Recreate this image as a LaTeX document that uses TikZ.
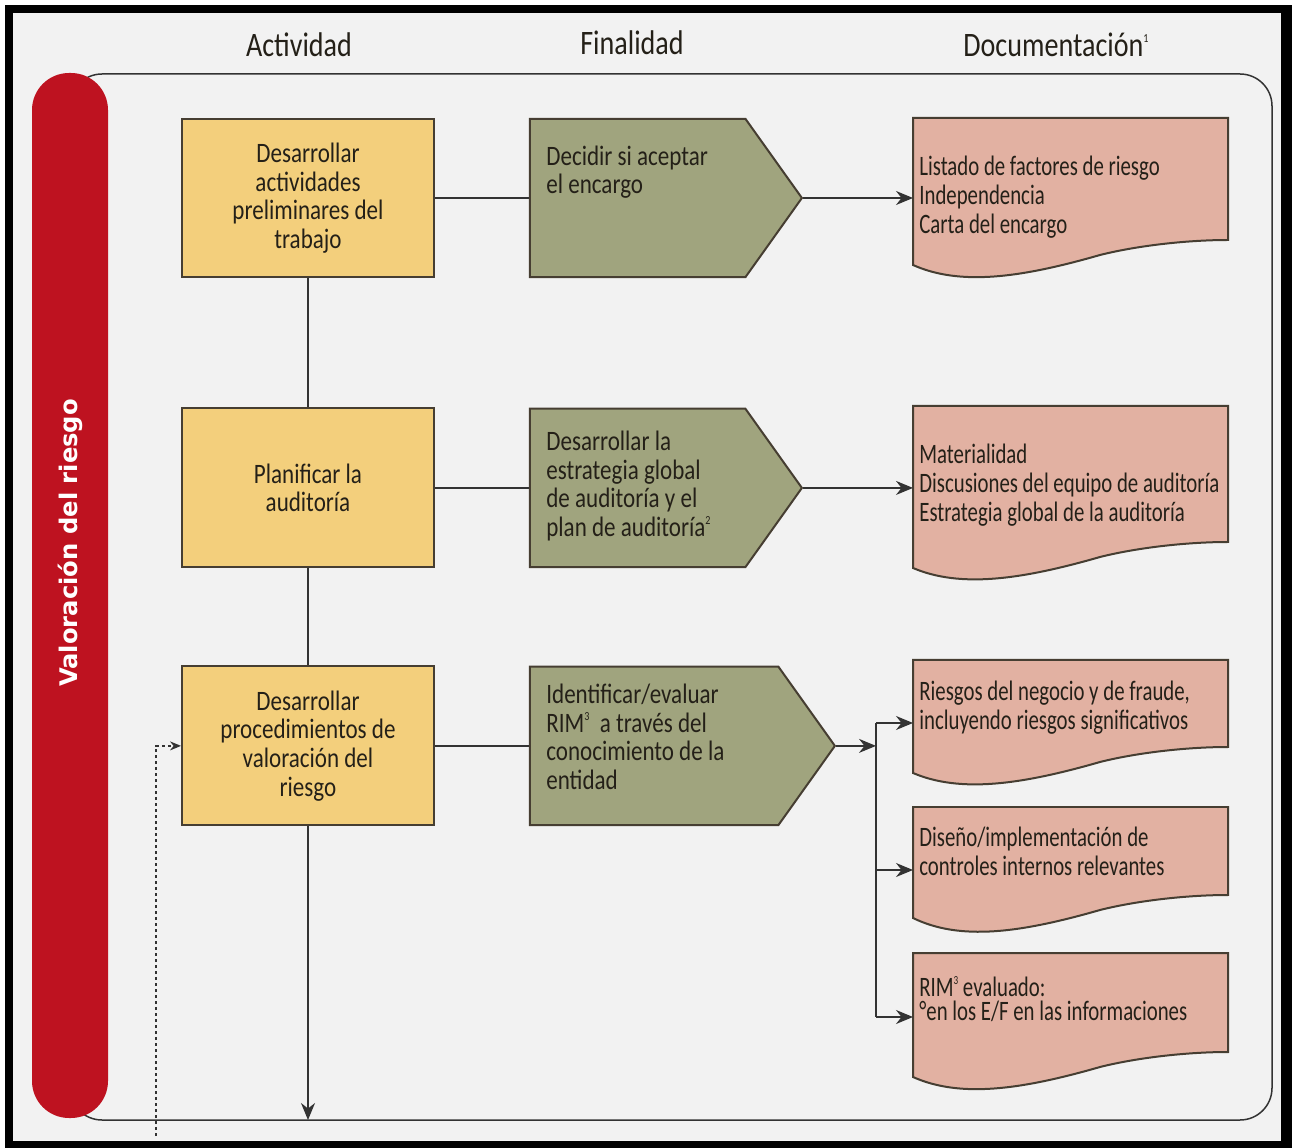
\documentclass[tikz,border=0pt]{standalone}
\usepackage{fontspec}
\setmainfont{Carlito}[FakeStretch=0.82]
\newfontfamily\docfont{Carlito}[FakeStretch=0.74]
\newfontfamily\barfont{DejaVu Sans}
\usetikzlibrary{arrows.meta, positioning, shapes.symbols}

\definecolor{actyellow}{RGB}{243,207,124}
\definecolor{fingreen}{RGB}{160,164,126}
\definecolor{docpink}{RGB}{226,177,162}
\definecolor{barred}{RGB}{190,18,32}
\definecolor{panelgray}{RGB}{242,242,242}
\definecolor{edge}{RGB}{70,62,50}
\definecolor{ink}{RGB}{36,32,24}

\newcommand\supnum[1]{\raisebox{0.9ex}{\fontsize{7pt}{7pt}\selectfont#1}}

\begin{document}
\begin{tikzpicture}[x=0.02cm, y=-0.02cm, >={Stealth[length=0.34cm, width=0.28cm]},
  font=\fontsize{16pt}{16.3pt}\selectfont, text=ink,
  act/.style={draw=edge, line width=0.04cm, fill=actyellow, minimum width=5.04cm, minimum height=3.18cm, align=center},
  fin/.style={signal, signal to=east, signal pointer angle=109, draw=edge, line width=0.04cm, fill=fingreen, minimum height=3.17cm},
  fintext/.style={anchor=west, align=left, inner sep=0pt},
  doctext/.style={anchor=west, align=left, inner xsep=0.12cm, font=\docfont\fontsize{16pt}{16.5pt}\selectfont},
  docshape/.style={draw=edge, line width=0.04cm, fill=docpink},
  head/.style={anchor=base, font=\fontsize{19.5pt}{20pt}\selectfont},
  link/.style={draw=black!80, line width=0.03cm}]

% frame and panel
\useasboundingbox (0,0) rectangle (1299,1148);
\fill[black] (5,5) rectangle (1292,1148);
\fill[panelgray] (13,13) rectangle (1281,1141);
\draw[link, rounded corners=0.64cm] (70,74) rectangle (1272,1120);
\fill[barred, rounded corners=0.74cm] (32,73) rectangle (108,1118);
\node[rotate=90, text=white, font=\barfont\bfseries\fontsize{13.8pt}{14pt}\selectfont] (bar) at (70,543) {Valoración del riesgo};

\node[head] (h-act) at (299,57) {Actividad};
\node[head] (h-fin) at (632,55) {Finalidad};
\node[head] (h-doc) at (1056,57) {Documentación\supnum{1}};

% actividad
\node[act] (act1) at (308,198) {Desarrollar\\actividades\\preliminares del\\trabajo};
\node[act, below=2.58cm of act1] (act2) {Planificar la\\auditoría};
\node[act, below=1.94cm of act2] (act3) {Desarrollar\\procedimientos de\\valoración del\\riesgo};

% finalidad
\node[fin, minimum width=5.44cm, right=1.88cm of act1] (fin1) {};
\node[fin, minimum width=5.44cm, right=1.88cm of act2] (fin2) {};
\node[fin, minimum width=6.1cm, right=1.88cm of act3] (fin3) {};

\node[fintext] (fin1-text) at (546,172) {Decidir si aceptar\\el encargo};
\node[fintext] (fin2-text) at (546,486) {Desarrollar la\\estrategia global\\de auditoría y el\\plan de auditoría\supnum{2}};
\node[fintext] (fin3-text) at (546,737) {Identificar/evaluar\\RIM\supnum{3}\ \ a través del\\conocimiento de la\\entidad};

% documentacion
\path[docshape] (913,118) -- (1228,118) -- (1228,240) .. controls (1190,240) and (1140,245) .. (1100,255) .. controls (1020,278) and (960,286) .. (913,265) -- cycle;
\path[docshape] (913,406) -- (1228,406) -- (1228,542) .. controls (1190,542) and (1140,547) .. (1100,557) .. controls (1020,580) and (960,588) .. (913,568) -- cycle;
\path[docshape] (913,660) -- (1228,660) -- (1228,747) .. controls (1190,747) and (1140,752) .. (1100,762) .. controls (1020,785) and (960,793) .. (913,773) -- cycle;
\path[docshape] (913,807) -- (1228,807) -- (1228,895) .. controls (1190,895) and (1140,900) .. (1100,910) .. controls (1020,933) and (960,941) .. (913,918) -- cycle;
\path[docshape] (913,953) -- (1228,953) -- (1228,1052) .. controls (1190,1052) and (1140,1057) .. (1100,1067) .. controls (1020,1090) and (960,1098) .. (913,1077) -- cycle;

\node[doctext] (doc1) at (913,197) {Listado de factores de riesgo\\Independencia\\Carta del encargo};
\node[doctext] (doc2) at (913,485) {Materialidad\\Discusiones del equipo de auditoría\\Estrategia global de la auditoría};
\node[doctext] (doc3) at (913,708) {Riesgos del negocio y de fraude,\\incluyendo riesgos significativos};
\node[doctext] (doc4) at (913,851) {Diseño/implementación de\\controles internos relevantes};
\node[doctext] (doc5) at (913,999) {RIM\supnum{3} evaluado:\\[-0.11cm]°en los E/F en las informaciones};

\coordinate (end) at (308,1120);
\coordinate (split) at (876,741);
\coordinate (br-top) at (876,723);
\coordinate (br-mid) at (876,870);
\coordinate (br-bot) at (876,1017);
\coordinate (loop) at (156,1136);

\draw[link] (act1) -- (act2);
\draw[link] (act2) -- (act3);
\draw[link, ->] (act3) -- (end);

\draw[link] (act1.east) -- (fin1.west);
\draw[link] (act2.east) -- (fin2.west);
\draw[link] (act3.east) -- (fin3.west);

\draw[link, ->] (fin1.east) -- (fin1.east -| doc1.west);
\draw[link, ->] (fin2.east) -- (fin2.east -| doc2.west);
\draw[link, ->] (fin3.east) -- (fin3.east -| split);

\draw[link] (br-top) -- (br-bot);
\draw[link, ->] (br-top) -- (br-top -| doc3.west);
\draw[link, ->] (br-mid) -- (br-mid -| doc4.west);
\draw[link, ->] (br-bot) -- (br-bot -| doc5.west);

\draw[link, -{Stealth[length=0.22cm, width=0.18cm]}, dash pattern=on 0.07cm off 0.05cm] (loop) |- (act3.west);

\end{tikzpicture}
\end{document}
